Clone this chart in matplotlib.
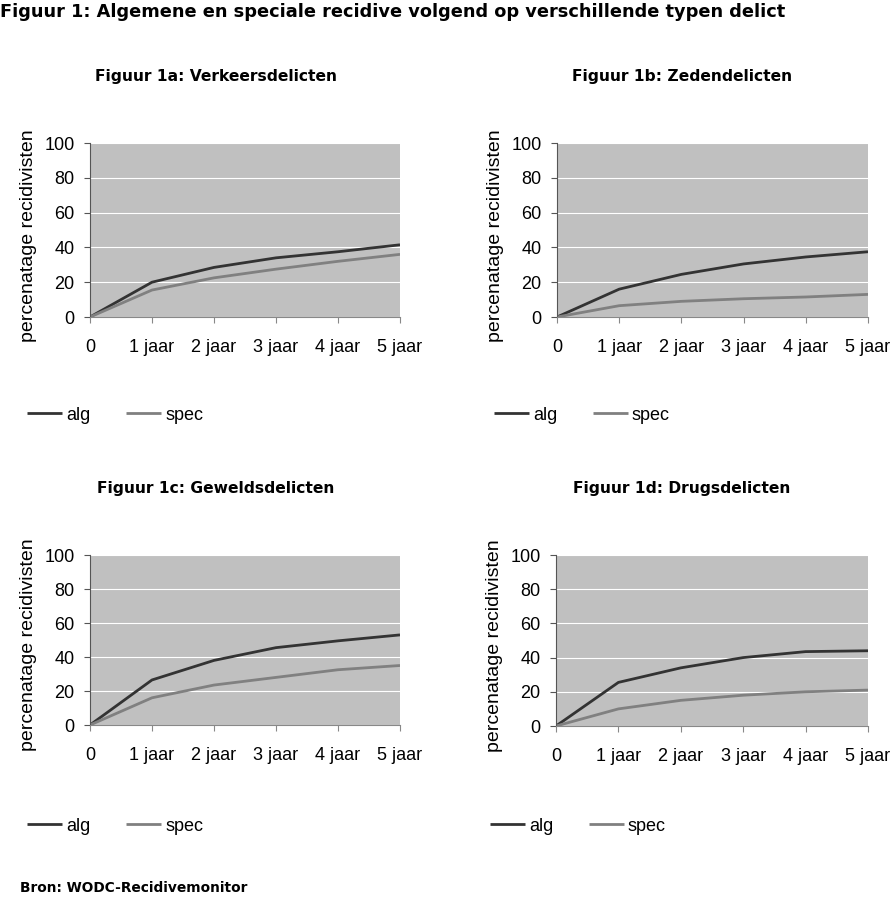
import matplotlib
matplotlib.use("Agg")
import matplotlib.pyplot as plt
from matplotlib import font_manager

W, H = 890, 897
fig = plt.figure(figsize=(W / 100, H / 100), dpi=100)

names = {f.name for f in font_manager.fontManager.ttflist}
narrow = 'Liberation Sans Narrow' if 'Liberation Sans Narrow' in names else 'Liberation Sans'

categories = ["0", "1 jaar", "2 jaar", "3 jaar", "4 jaar", "5 jaar"]
yticks = [0, 20, 40, 60, 80, 100]

titles = ["Figuur 1a: Verkeersdelicten", "Figuur 1b: Zedendelicten",
          "Figuur 1c: Geweldsdelicten", "Figuur 1d: Drugsdelicten"]

alg_a = [0, 20, 28.5, 34, 37.5, 41.5]
spec_a = [0, 15.5, 22.5, 27.5, 32, 36]
alg_b = [0, 16, 24.5, 30.5, 34.5, 37.5]
spec_b = [0, 6.5, 9, 10.5, 11.5, 13]
alg_c = [0, 26.5, 38, 45.5, 49.5, 53]
spec_c = [0, 16, 23.5, 28, 32.5, 35]
alg_d = [0, 25.5, 34, 40, 43.5, 44]
spec_d = [0, 10, 15, 18, 20, 21]

series = [(alg_a, spec_a), (alg_b, spec_b), (alg_c, spec_c), (alg_d, spec_d)]

# pixel boxes: left, top, right, bottom
boxes = [(90, 143, 400, 317), (557, 143, 868, 317),
         (90, 555, 400, 725), (556, 555, 868, 726)]
legend_x = [27, 494, 27, 490]
legend_y = [415, 415, 826, 826]
title_x = [216, 682, 216, 682]
title_y = [76, 76, 488, 488]

ALG = '#333333'
SPEC = '#808080'

for i, ((l, t, r, b), (alg, spec)) in enumerate(zip(boxes, series)):
    ax = fig.add_axes([l / W, 1 - b / H, (r - l) / W, (b - t) / H])
    x = list(range(len(categories)))
    ax.set_facecolor('#c0c0c0')
    ax.plot(x, alg, color=ALG, lw=2.0, label='alg', solid_capstyle='butt')
    ax.plot(x, spec, color=SPEC, lw=2.0, label='spec', solid_capstyle='butt')
    ax.set_xlim(0, 5)
    ax.set_ylim(0, 100)
    ax.set_xticks(x)
    ax.set_xticklabels(categories)
    ax.set_yticks(yticks)
    ax.yaxis.grid(True, color='white', lw=0.8)
    ax.set_axisbelow(True)
    for s in ['top', 'right']:
        ax.spines[s].set_visible(False)
    ax.spines['left'].set_color('#555555')
    ax.spines['bottom'].set_color('#888888')
    ax.spines['left'].set_linewidth(0.8)
    ax.spines['bottom'].set_linewidth(0.8)
    ax.tick_params(axis='y', length=4, width=0.8, color='#555555', pad=7,
                   labelsize=13)
    ax.tick_params(axis='x', length=4, width=0.8, color='#888888', pad=12,
                   labelsize=13)
    for lab in ax.get_xticklabels() + ax.get_yticklabels():
        lab.set_fontfamily(narrow)
    ax.set_ylabel('percenatage recidivisten', fontsize=14, fontfamily=narrow)
    ax.yaxis.set_label_coords(-53 / (r - l), 0.47)
    fig.text(title_x[i] / W, 1 - title_y[i] / H, titles[i], ha='center',
             va='center', fontsize=11.2, fontweight='bold', family='DejaVu Sans',
             color='black')
    leg = ax.legend(loc='center left',
                    bbox_to_anchor=(legend_x[i] / W, 1 - legend_y[i] / H),
                    bbox_transform=fig.transFigure, ncol=2, frameon=False,
                    handlelength=1.95, handletextpad=0.2, columnspacing=2.0,
                    borderpad=0, borderaxespad=0,
                    prop={'family': narrow, 'size': 13})

fig.text(0 / W, 1 - 12 / H,
         "Figuur 1: Algemene en speciale recidive volgend op verschillende typen delict",
         ha='left', va='center', fontsize=12.8, fontweight='bold',
         family='DejaVu Sans')
fig.text(20 / W, 1 - 888 / H, "Bron: WODC-Recidivemonitor", ha='left',
         va='center', fontsize=9.9, fontweight='bold', family='DejaVu Sans')

fig.savefig('out.png', dpi=100)
